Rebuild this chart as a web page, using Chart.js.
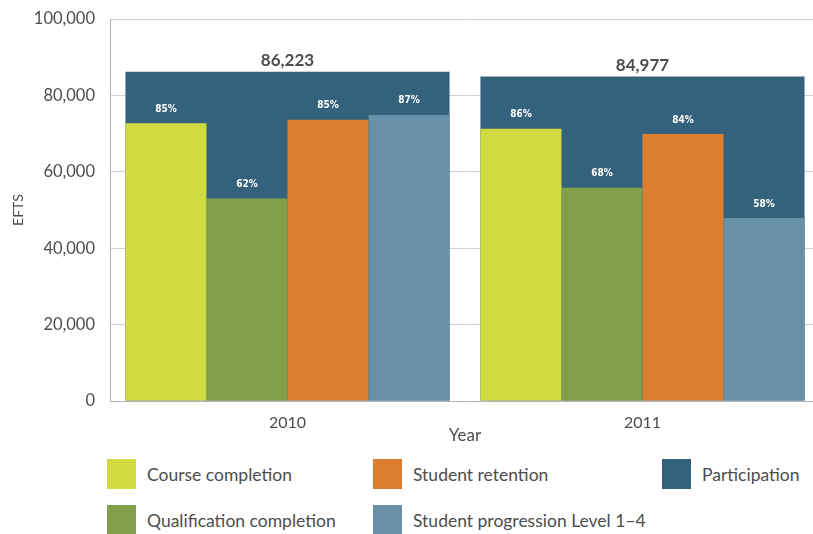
<!DOCTYPE html>
<html><head><meta charset="utf-8">
<script src="https://cdn.jsdelivr.net/npm/chart.js@4"></script>
<style>
html,body{margin:0;padding:0;overflow:hidden;background:#fff;width:813px;height:534px;}
#wrap{position:absolute;left:0;top:0;width:830px;height:446px;}
.lg{position:absolute;display:flex;align-items:center;font-family:Lato, sans-serif;font-size:17.5px;color:#4d4d4d;white-space:nowrap;}
.lg .b{display:inline-block;width:29px;height:30px;margin-right:11px;}
</style></head><body>
<div id="wrap"><canvas id="c"></canvas></div>
<div id="legend"></div>
<script>
// ---- data ----
const years = ['2010', '2011'];
const participation = [86223, 84977];
const courseCompletion = [72700, 71300];
const qualificationCompletion = [53000, 55800];
const studentRetention = [73600, 69900];
const studentProgression = [74900, 47900];
const courseCompletionPct = ['85%', '86%'];
const qualificationCompletionPct = ['62%', '68%'];
const studentRetentionPct = ['85%', '84%'];
const studentProgressionPct = ['87%', '58%'];
const participationLabels = ['86,223', '84,977'];
const yTicks = [0, 20000, 40000, 60000, 80000, 100000];

// ---- styles ----
const COLORS = {
  course: '#cfdb40',
  qual: '#819e48',
  retention: '#db7f2e',
  progression: '#6890a8',
  participation: '#34627d'
};
const BASE_FONT = 'Lato, sans-serif';
const TXT = '#4d4d4d';

const CAT_PCT = 0.913;
function comp(label, data, color, pct) {
  return {label, data, backgroundColor: color, borderWidth: 0,
    categoryPercentage: CAT_PCT, barPercentage: 1, order: 1, pctLabels: pct};
}
const datasets = [
  comp('Course completion', courseCompletion, COLORS.course, courseCompletionPct),
  comp('Qualification completion', qualificationCompletion, COLORS.qual, qualificationCompletionPct),
  comp('Student retention', studentRetention, COLORS.retention, studentRetentionPct),
  comp('Student progression Level 1–4', studentProgression, COLORS.progression, studentProgressionPct),
  {label: 'Participation', data: participation, backgroundColor: COLORS.participation, borderWidth: 0,
   grouped: false, categoryPercentage: CAT_PCT, barPercentage: 1, order: 2, totalLabels: participationLabels}
];

const labelPlugin = {
  id: 'barLabels',
  afterDatasetsDraw(chart) {
    const ctx = chart.ctx;
    ctx.save();
    ctx.textAlign = 'center';
    chart.data.datasets.forEach((ds, i) => {
      const meta = chart.getDatasetMeta(i);
      meta.data.forEach((bar, j) => {
        if (ds.totalLabels) {
          ctx.font = 'bold 17px ' + BASE_FONT;
          ctx.fillStyle = TXT;
          ctx.textBaseline = 'middle';
          ctx.fillText(ds.totalLabels[j], bar.x, bar.y - 11);
        } else if (ds.pctLabels) {
          ctx.font = '600 10px "DejaVu Sans Condensed", "Liberation Sans Narrow", sans-serif';
          ctx.fillStyle = '#ffffff';
          ctx.textBaseline = 'middle';
          ctx.fillText(ds.pctLabels[j], bar.x, bar.y - 14);
        }
      });
    });
    ctx.restore();
  }
};

const chart = new Chart(document.getElementById('c'), {
  type: 'bar',
  data: {labels: years, datasets},
  options: {
    responsive: true, maintainAspectRatio: false, animation: false,
    layout: {padding: {top: 0, right: 10, bottom: 0, left: 0}},
    plugins: {legend: {display: false}, tooltip: {enabled: false}},
    scales: {
      x: {
        grid: {display: false},
        border: {display: true, color: '#b3b3b3', width: 1},
        ticks: {font: {family: BASE_FONT, size: 16}, color: TXT, padding: 4},
        title: {display: true, text: 'Year', font: {family: BASE_FONT, size: 17}, color: TXT, padding: {top: 0, bottom: 0}},
        afterFit(s) { s.height = 45; }
      },
      y: {
        min: 0, max: 100000,
        afterBuildTicks(s) { s.ticks = yTicks.map(v => ({value: v})); },
        grid: {color: '#d0d0d0', drawTicks: false},
        border: {display: true, color: '#b3b3b3', width: 1},
        ticks: {font: {family: BASE_FONT, size: 16.5}, color: TXT, padding: 15,
          callback: v => Number(v).toLocaleString('en-US')},
        title: {display: true, text: 'EFTS', font: {family: BASE_FONT, size: 14}, color: TXT, padding: {top: 10, bottom: 0}},
        afterFit(s) { s.width = 110; s.paddingTop = 19; s.paddingBottom = 0; }
      }
    }
  },
  plugins: [labelPlugin]
});

// ---- legend (column-major, 3 columns) ----
const legendCols = [107, 373, 662];
const legendRows = [459, 505];
const legendOrder = [0, 1, 2, 3, 4]; // course, qual, retention, progression, participation
const lg = document.getElementById('legend');
legendOrder.forEach((di, k) => {
  const ds = datasets[di];
  const col = Math.floor(k / 2), row = k % 2;
  const el = document.createElement('div');
  el.className = 'lg';
  el.style.left = legendCols[col] + 'px';
  el.style.top = legendRows[row] + 'px';
  const b = document.createElement('span');
  b.className = 'b';
  b.style.background = ds.backgroundColor;
  el.appendChild(b);
  el.appendChild(document.createTextNode(ds.label));
  lg.appendChild(el);
});
</script>
</body></html>
